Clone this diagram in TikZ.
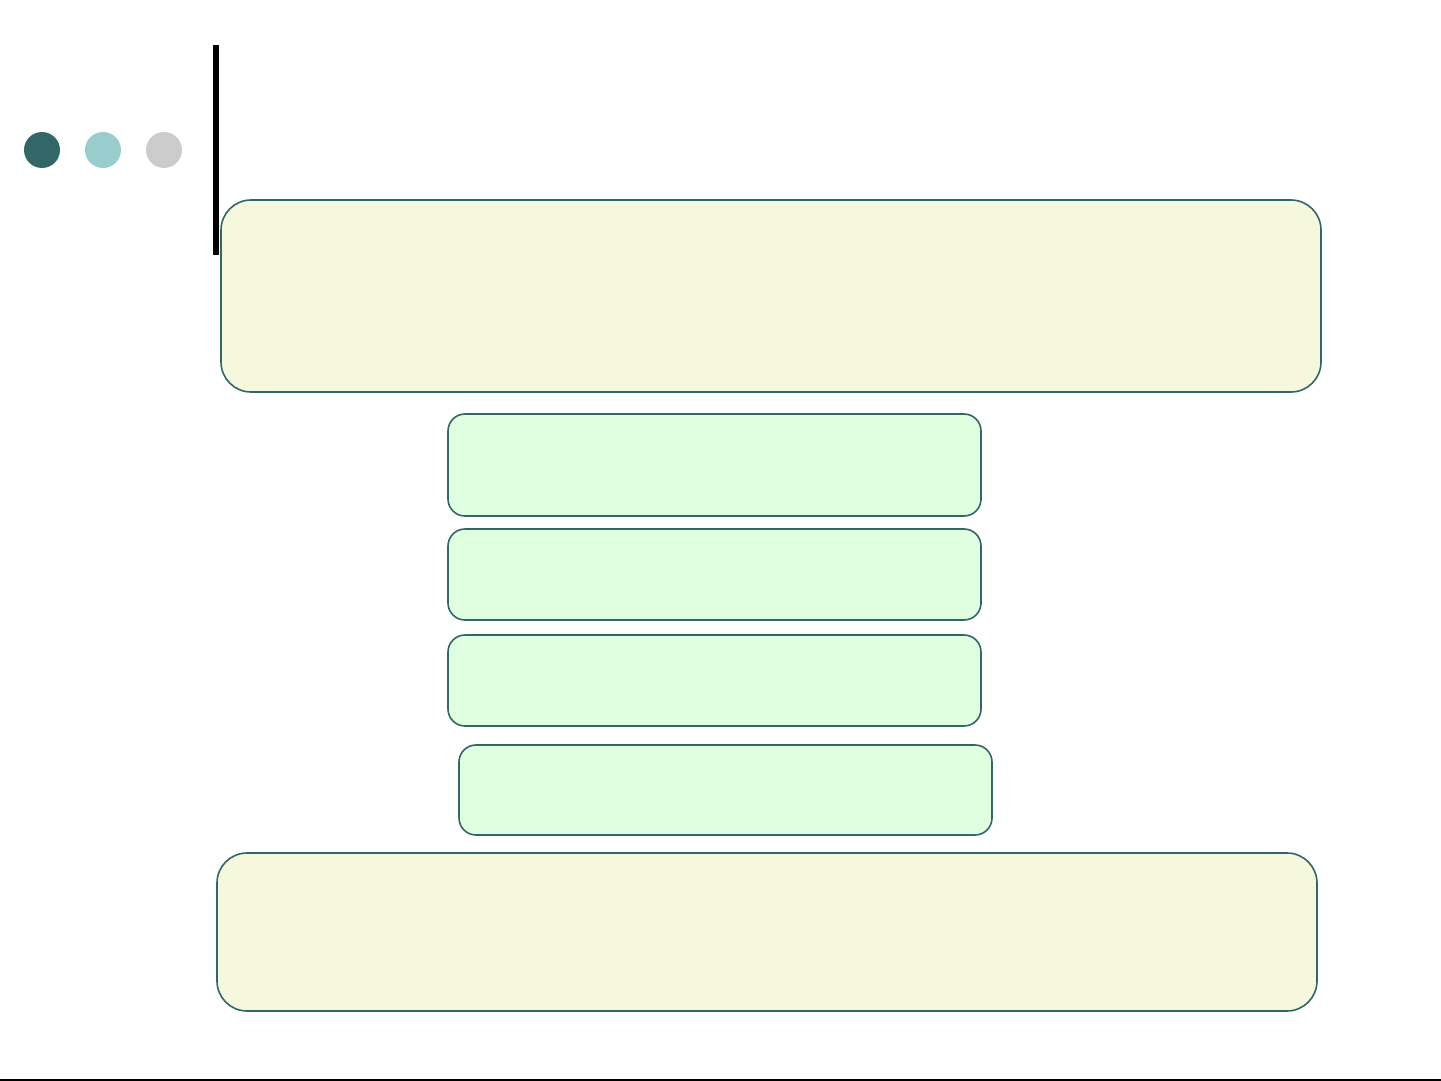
\documentclass[tikz,border=0pt]{standalone}
\usepackage{tikz}

\definecolor{dotdark}{HTML}{336666}
\definecolor{dotlight}{HTML}{99CCCC}
\definecolor{dotgrey}{HTML}{CCCCCC}
\definecolor{boxline}{HTML}{336666}
\definecolor{cream}{HTML}{F5F8DC}
\definecolor{mint}{HTML}{E0FFE0}

\tikzset{
  bigbox/.style={draw=boxline,fill=cream,line width=1.6pt,rounded corners=30pt},
  smallbox/.style={draw=boxline,fill=mint,line width=1.6pt,rounded corners=17pt}
}

\begin{document}
\begin{tikzpicture}[x=1pt,y=-1pt]
  \useasboundingbox (0,0) rectangle (1441,1081);
  \coordinate (c1) at (42,150);
  \coordinate (c2) at (103,150);
  \coordinate (c3) at (164,150);
  \coordinate (t1) at (221,200);
  \coordinate (t2) at (1321,392);
  \coordinate (g1a) at (448,414);
  \coordinate (g1b) at (981,516);
  \coordinate (g2a) at (448,529);
  \coordinate (g2b) at (981,620);
  \coordinate (g3a) at (448,635);
  \coordinate (g3b) at (981,726);
  \coordinate (g4a) at (459,745);
  \coordinate (g4b) at (992,835);
  \coordinate (b1) at (217,853);
  \coordinate (b2) at (1317,1011);
  \fill[color=dotdark]
    (c1)
    circle
    [radius=18];
  \fill[color=dotlight]
    (c2)
    circle
    [radius=18];
  \fill[color=dotgrey]
    (c3)
    circle
    [radius=18];
  \fill[color=black]
    (213,45)
    rectangle
    (219,255);
  \draw[bigbox]
    (t1)
    rectangle
    (t2);
  \draw[smallbox]
    (g1a)
    rectangle
    (g1b);
  \draw[smallbox]
    (g2a)
    rectangle
    (g2b);
  \draw[smallbox]
    (g3a)
    rectangle
    (g3b);
  \draw[smallbox]
    (g4a)
    rectangle
    (g4b);
  \draw[bigbox]
    (b1)
    rectangle
    (b2);
  \draw[line width=3pt]
    (0,1080)
    --
    (1441,1080);
\end{tikzpicture}
\end{document}
